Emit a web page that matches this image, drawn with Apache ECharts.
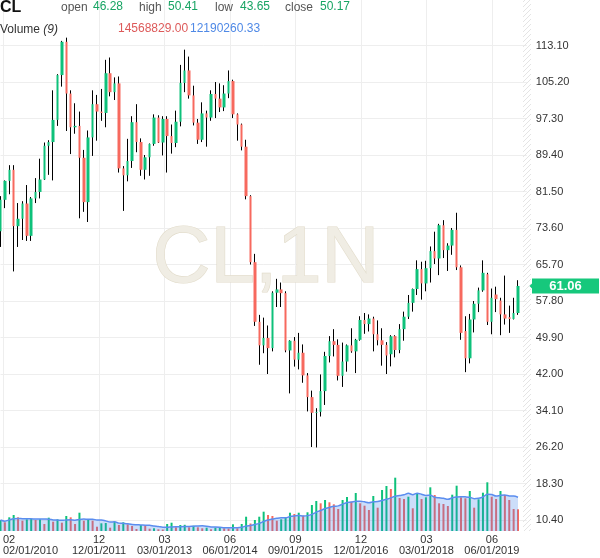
<!DOCTYPE html>
<html><head><meta charset="utf-8">
<script src="https://cdn.jsdelivr.net/npm/echarts@6/dist/echarts.min.js"></script>
<style>html,body{margin:0;padding:0;background:#fff}#c{width:600px;height:558px}</style>
</head><body><div id="c"></div>
<script>
// ---------- data ----------
const startYear = 2010, startMonth = 2;   // first category: Feb 2010
const monthCount = 121;                    // Feb 2010 .. Feb 2020 (last two empty)
const tickLabels = ['02/01/2010','12/01/2011','03/01/2013','06/01/2014','09/01/2015','12/01/2016','03/01/2018','06/01/2019'];
const priceMin = 10.4, priceMax = 113.1, priceStep = 7.9;

const open = [72.9,79.7,83.8,86.2,74.0,75.6,78.9,71.9,80.0,81.4,84.1,91.4,92.2,97.0,106.7,113.9,102.7,95.4,95.7,88.8,
  79.2,93.2,100.4,98.8,98.5,107.1,103.0,104.9,86.5,85.0,88.1,96.5,92.2,86.2,88.9,91.8,97.5,92.1,97.2,93.5,
  92.0,96.6,105.0,107.7,102.3,96.4,92.7,98.4,97.5,102.6,101.6,99.7,102.7,105.4,98.2,96.0,91.2,80.5,66.2,53.3,
  48.2,49.8,47.6,59.6,60.3,59.5,47.1,49.2,45.1,46.6,41.7,37.0,33.6,33.8,38.3,45.9,49.1,48.3,41.6,44.7,
  48.2,46.9,49.4,53.7,52.8,54.0,50.6,49.3,48.3,46.28,50.2,47.2,51.7,54.4,57.4,60.4,64.7,61.6,64.9,68.6,
  67.0,74.2,68.8,69.8,73.2,65.1,51.3,45.4,53.8,57.2,60.1,63.6,53.3,59.2,57.9,54.9,54.3,53.9,55.2];
const high = [80.5,83.9,87.2,87.2,79.0,79.4,82.9,80.3,84.4,88.6,92.1,92.6,103.4,106.9,114.1,114.8,103.4,100.6,98.8,90.5,
  94.7,103.4,102.4,103.7,110.0,110.5,106.2,106.4,87.0,92.9,97.8,100.4,93.0,89.4,91.9,98.2,98.0,97.8,97.8,96.0,
  99.0,108.9,112.2,110.7,104.4,97.2,100.8,99.0,103.4,105.2,104.9,104.5,107.7,105.7,98.4,96.2,92.7,80.7,68.0,54.8,
  54.2,52.5,59.9,62.6,61.8,59.9,49.3,50.0,50.9,48.4,42.2,38.4,34.6,41.9,46.8,50.2,51.7,49.5,48.8,48.4,
  51.9,49.6,54.5,55.2,54.9,54.4,53.6,51.9,48.9,50.41,50.4,52.8,55.5,59.1,60.5,66.6,66.3,66.5,69.6,72.8,
  74.5,75.3,70.3,73.6,76.9,65.5,54.5,55.0,57.8,60.7,66.6,63.9,60.5,60.9,58.5,63.3,56.8,58.5,62.3];
const low = [69.5,77.9,80.9,64.2,69.5,71.0,70.8,70.8,79.0,80.0,84.0,85.1,83.9,95.7,104.2,94.6,89.6,94.0,75.7,77.1,
  74.9,89.2,92.5,96.8,95.4,102.1,101.3,85.6,77.3,83.7,86.6,90.0,84.9,84.1,84.9,91.4,92.0,89.3,85.6,89.7,
  91.1,95.6,103.0,101.6,95.8,91.8,92.2,91.2,96.8,97.4,98.7,98.9,101.7,97.4,92.5,90.4,79.8,65.7,52.4,44.0,
  46.5,42.0,46.9,56.5,56.5,46.7,37.8,43.6,43.0,40.1,33.9,26.2,26.1,32.8,35.3,44.5,45.8,40.6,39.2,42.5,
  46.6,42.2,49.2,50.7,51.2,46.9,48.2,43.8,42.0,43.65,45.6,46.5,49.2,53.9,55.5,59.1,58.1,59.9,61.8,65.8,
  63.4,67.1,64.3,67.8,64.5,49.4,42.4,44.3,51.0,55.4,59.8,52.6,50.6,55.4,50.4,52.7,50.9,53.8,54.8];
const close = [79.7,83.8,86.2,74.0,75.6,78.9,71.9,80.0,81.4,84.1,91.4,92.2,97.0,106.7,113.9,102.7,95.4,95.7,88.8,79.2,
  93.2,100.4,98.8,98.5,107.1,103.0,104.9,86.5,85.0,88.1,96.5,92.2,86.2,88.9,91.8,97.5,92.1,97.2,93.5,92.0,
  96.6,105.0,107.7,102.3,96.4,92.7,98.4,97.5,102.6,101.6,99.7,102.7,105.4,98.2,96.0,91.2,80.5,66.2,53.3,48.2,
  49.8,47.6,59.6,60.3,59.5,47.1,49.2,45.1,46.6,41.7,37.0,33.6,33.8,38.3,45.9,49.1,48.3,41.6,44.7,48.2,
  46.9,49.4,53.7,52.8,54.0,50.6,49.3,48.3,46.0,50.17,47.2,51.7,54.4,57.4,60.4,64.7,61.6,64.9,68.6,67.0,
  74.2,68.8,69.8,73.2,65.1,50.9,45.4,53.8,57.2,60.1,63.9,53.3,58.5,58.2,54.9,54.0,53.9,55.2,61.06];
// volume, millions of contracts
const volume = [3.82,3.02,4.75,5.55,4.75,3.57,4.06,4.16,3.82,4.06,2.43,4.62,3.23,4.06,2.88,5.21,4.75,2.43,6.35,3.57,
  4.06,3.57,1.49,2.67,2.78,1.15,3.23,2.08,3.02,2.32,1.74,0.69,2.08,1.91,0.80,0.94,0.59,0.52,2.43,2.88,
  1.28,2.08,2.15,1.28,1.84,1.28,0.94,1.15,0.59,1.15,1.28,0.94,0.87,2.32,0.94,2.43,4.96,2.60,3.82,4.96,
  6.70,5.55,5.21,3.57,4.06,4.75,6.35,5.90,6.35,5.31,6.49,9.02,10.41,9.61,10.76,9.96,9.26,7.63,10.76,11.80,
  10.17,13.19,9.61,8.78,7.29,12.15,8.09,14.23,15.62,14.57,18.50,11.45,11.10,11.90,7.88,12.84,11.10,11.69,15.16,12.49,
  9.61,9.37,8.68,12.60,15.72,11.69,11.35,13.88,8.09,11.00,13.29,16.90,11.90,11.10,13.88,12.49,10.76,7.63,7.53];
const maPeriod = 9;
const headerValues = {open:'46.28', high:'50.41', low:'43.65', close:'50.17', vol:'14568829.00', volMa:'12190260.33'};
const symbolName = 'CL', watermark = 'CL,1N';

// ---------- styles ----------
const GREEN = '#0ec17a', RED = '#f7695e';
const FONT = '"Liberation Sans", Arial, Helvetica, sans-serif';
const GL = 0.5, GR = 73.2;

const cats = [];
for (let k = 0; k < monthCount; k++) {
  const m = (startMonth - 1 + k) % 12 + 1;
  const y = startYear + Math.floor((startMonth - 1 + k) / 12);
  cats.push(String(m).padStart(2, '0') + '/01/' + y);
}
const tickSet = new Set(tickLabels);
const ohlc = open.map((o, i) => [o, close[i], low[i], high[i]]);
const bodies = open.map((o, i) => [o, close[i], Math.min(o, close[i]), Math.max(o, close[i])]);
const volData = volume.map((v, i) => ({value: v, itemStyle: {color: (i > 0 && v < volume[i - 1]) ? RED : GREEN}}));
const ma = volume.map((v, i) => {
  const s = volume.slice(Math.max(0, i - maPeriod + 1), i + 1);
  return +(s.reduce((a, b) => a + b, 0) / s.length).toFixed(3);
});

// hatch pattern
const pc = document.createElement('canvas'); pc.width = 5; pc.height = 5;
const pctx = pc.getContext('2d');
pctx.strokeStyle = '#e4e4e4'; pctx.lineWidth = 1;
pctx.beginPath(); pctx.moveTo(0, 5); pctx.lineTo(5, 0); pctx.stroke();

const chart = echarts.init(document.getElementById('c'), null, {renderer: 'canvas'});
const hiddenCat = (g) => ({gridIndex: g, type: 'category', data: cats, boundaryGap: false, show: false});

function txt(x, y, text, font, fill, align) {
  return {type: 'text', x: x, y: y, z: 20, silent: true,
    style: {text: text, font: font, fill: fill, align: align || 'left', verticalAlign: 'middle'}};
}

const option = {
  animation: false,
  textStyle: {fontFamily: FONT},
  grid: [
    {left: GL, right: GR, top: 0, bottom: 27},
    {left: GL, right: GR, top: 45.5, bottom: 38},
    {left: GL, right: GR, top: 431, bottom: 27}
  ],
  xAxis: [
    {gridIndex: 0, type: 'category', data: cats, boundaryGap: false,
      axisLine: {show: false}, axisTick: {show: false},
      axisLabel: {interval: (i, v) => tickSet.has(v), formatter: v => v.slice(0, 2) + '\n' + v,
        color: '#333', fontSize: 11, lineHeight: 11, margin: 3, alignMinLabel: 'left', fontFamily: FONT},
      splitLine: {show: true, interval: (i, v) => tickSet.has(v), lineStyle: {color: '#eeeeee', width: 1}}},
    hiddenCat(1), hiddenCat(2)
  ],
  yAxis: [
    {gridIndex: 0, show: false, min: 0, max: 1},
    {gridIndex: 1, type: 'value', position: 'right', min: priceMin, max: priceMax, interval: priceStep,
      axisLine: {show: false}, axisTick: {show: false},
      splitLine: {show: true, lineStyle: {color: '#eeeeee', width: 1}},
      axisLabel: {formatter: v => v.toFixed(2), color: '#333', fontSize: 11, margin: 9, align: 'left', fontFamily: FONT}},
    {gridIndex: 2, show: false, min: 0, max: 34.7}
  ],
  series: [
    {type: 'bar', name: 'Volume', xAxisIndex: 2, yAxisIndex: 2, data: volData, barWidth: 2, silent: true, z: 2},
    {type: 'line', name: 'MA', xAxisIndex: 2, yAxisIndex: 2, data: ma, symbol: 'none', smooth: 0.3, silent: true, z: 3,
      lineStyle: {color: '#5b8def', width: 1.5}, areaStyle: {color: 'rgba(59,127,234,0.37)'}},
    {type: 'candlestick', name: 'wick', xAxisIndex: 1, yAxisIndex: 1, data: ohlc, barWidth: 0, clip: false, silent: true, z: 4,
      itemStyle: {color: '#000', color0: '#000', borderColor: '#000', borderColor0: '#000', borderWidth: 1}},
    {type: 'candlestick', name: 'CL', xAxisIndex: 1, yAxisIndex: 1, data: bodies, barWidth: 3, clip: false, silent: true, z: 5,
      itemStyle: {color: GREEN, color0: RED, borderColor: GREEN, borderColor0: RED, borderWidth: 0}}
  ]
};
chart.setOption(option);

const last = close[close.length - 1];
const ty = chart.convertToPixel({yAxisIndex: 1}, last);
chart.setOption({
  graphic: [
    {type: 'rect', z: 1, silent: true, shape: {x: 523, y: 0, width: 8, height: 531},
      style: {fill: {image: pc, repeat: 'repeat'}}},
    {type: 'text', x: 266, y: 259.5, z: 1, silent: true,
      style: {text: watermark, font: '80px ' + FONT, fill: '#f0ede4', stroke: '#e2dccb', lineWidth: 1.2,
        align: 'center', verticalAlign: 'middle'}},
    {type: 'polygon', z: 20, silent: true,
      shape: {points: [[529.5, ty], [532, ty - 2.5], [532, ty - 7.5], [599, ty - 7.5], [599, ty + 7.5], [532, ty + 7.5], [532, ty + 2.5]]},
      style: {fill: '#16c87c'}},
    txt(565.5, ty, last.toFixed(2), 'bold 13px ' + FONT, '#fff', 'center'),
    txt(0, 8, symbolName, 'bold 16px ' + FONT, '#111'),
    txt(61, 8, 'open', '12px ' + FONT, '#555'),
    txt(93, 6.5, headerValues.open, '12px ' + FONT, '#17a463'),
    txt(139, 8, 'high', '12px ' + FONT, '#555'),
    txt(168, 6.5, headerValues.high, '12px ' + FONT, '#17a463'),
    txt(215, 8, 'low', '12px ' + FONT, '#555'),
    txt(240, 6.5, headerValues.low, '12px ' + FONT, '#17a463'),
    txt(285, 8, 'close', '12px ' + FONT, '#555'),
    txt(320, 6.5, headerValues.close, '12px ' + FONT, '#17a463'),
    {type: 'text', x: 0, y: 29.5, z: 20, silent: true,
      style: {text: '{a|Volume }{b|(9)}', verticalAlign: 'middle',
        rich: {a: {font: '12px ' + FONT, fill: '#333'}, b: {font: 'italic 12px ' + FONT, fill: '#333'}}}},
    txt(118, 29, headerValues.vol, '12px ' + FONT, '#dd5a5a'),
    txt(190, 29, headerValues.volMa, '12px ' + FONT, '#4f89e6')
  ]
});
</script></body></html>
